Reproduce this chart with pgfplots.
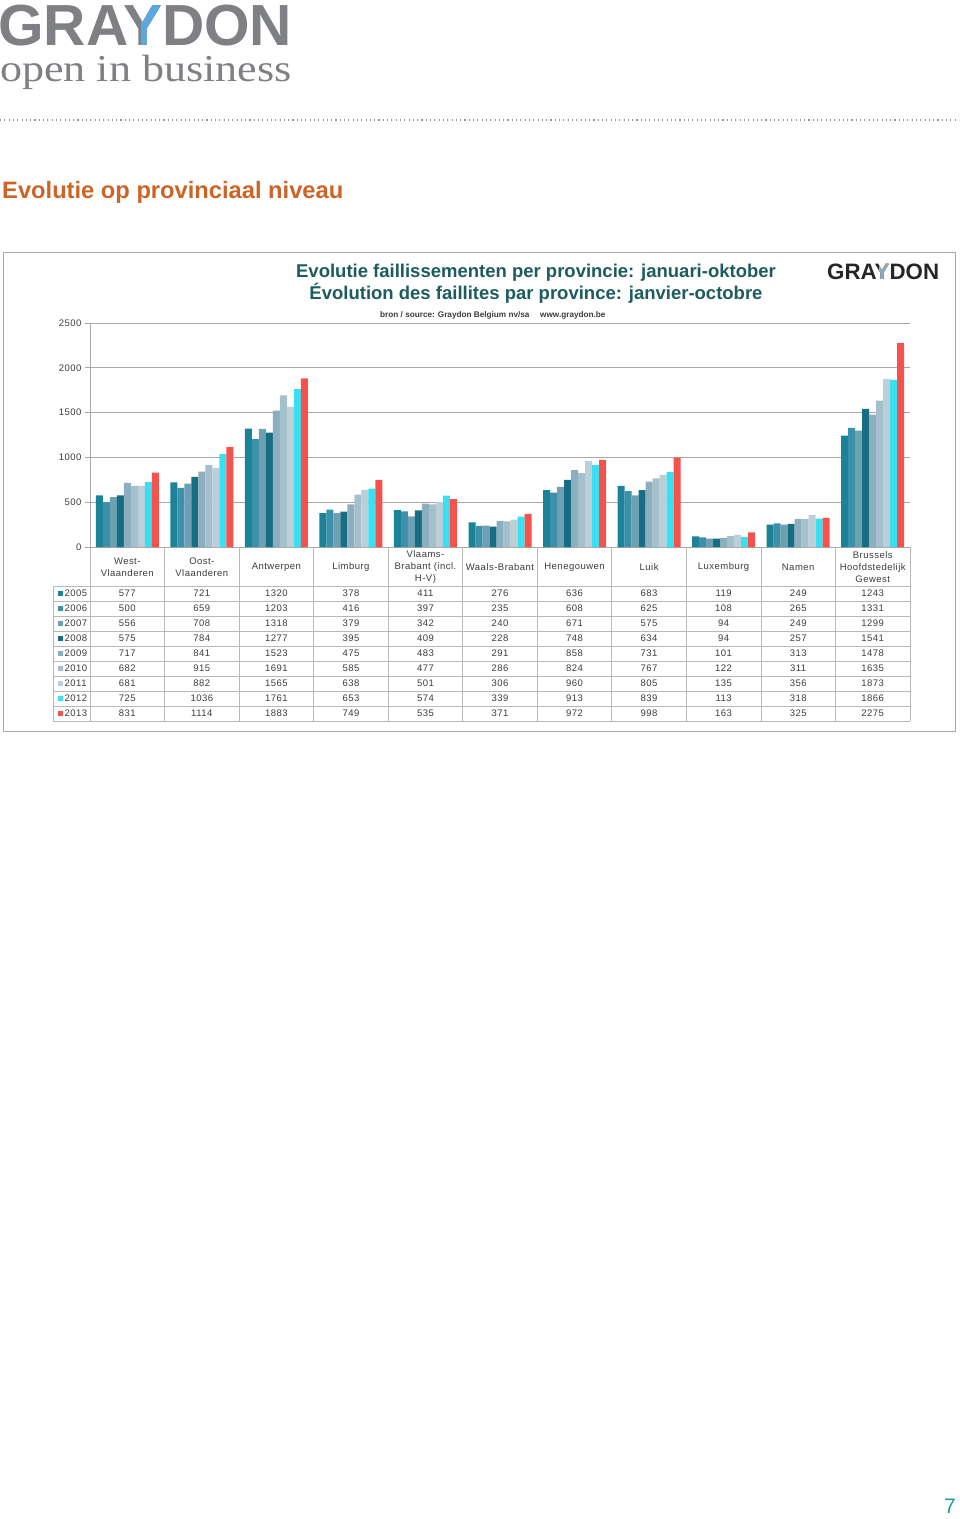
\documentclass[border=0pt]{standalone}
\usepackage{fontspec}
\setmainfont{Liberation Sans}
\newfontfamily\seriffont{Liberation Serif}
\newfontfamily\tablefont[LetterSpace=5]{Liberation Sans}
\usepackage{graphicx}
\usepackage{pgfplots}
\usepackage{pgfplotstable}
\pgfplotsset{compat=1.18}

\definecolor{c2005}{HTML}{1C8298}
\definecolor{c2006}{HTML}{3C91AA}
\definecolor{c2007}{HTML}{6EA0B4}
\definecolor{c2008}{HTML}{176E84}
\definecolor{c2009}{HTML}{8CAFC0}
\definecolor{c2010}{HTML}{A5C0CD}
\definecolor{c2011}{HTML}{BCCED8}
\definecolor{c2012}{HTML}{38E0F2}
\definecolor{c2013}{HTML}{F5514D}
\definecolor{logogray}{HTML}{7E8083}
\definecolor{logoblue}{HTML}{5AA8E0}
\definecolor{headorange}{HTML}{CC6428}
\definecolor{titleteal}{HTML}{1D5C5E}
\definecolor{gridgray}{HTML}{A8A8A8}
\definecolor{tablegray}{HTML}{B8B8B8}
\definecolor{textgray}{HTML}{3C3C3C}
\definecolor{pageteal}{HTML}{1E9C9C}

\pgfplotstableread{
idx y2005 y2006 y2007 y2008 y2009 y2010 y2011 y2012 y2013
0 577 500 556 575 717 682 681 725 831
1 721 659 708 784 841 915 882 1036 1114
2 1320 1203 1318 1277 1523 1691 1565 1761 1883
3 378 416 379 395 475 585 638 653 749
4 411 397 342 409 483 477 501 574 535
5 276 235 240 228 291 286 306 339 371
6 636 608 671 748 858 824 960 913 972
7 683 625 575 634 731 767 805 839 998
8 119 108 94 94 101 122 135 113 163
9 249 265 249 257 313 311 356 318 325
10 1243 1331 1299 1541 1478 1635 1873 1866 2275
}\datatable

\begin{document}
\begin{tikzpicture}[x=1pt,y=1pt]
\fill[white] (0,0) rectangle (960,-1519);

% top-left logo
\node[anchor=base west, inner sep=0, text=logogray, font=\fontsize{58}{58}\selectfont\bfseries] at (-2,-45) {\scalebox{1.01}[1]{GRAYDON}};
\begin{scope}
\clip (141,0) rectangle (158,-50);
\node[anchor=base west, inner sep=0, text=logoblue, font=\fontsize{58}{58}\selectfont\bfseries] at (-2,-45) {\scalebox{1.01}[1]{GRAYDON}};
\end{scope}
\node[anchor=base west, inner sep=0, text=logogray, font=\seriffont\fontsize{38}{38}\selectfont] at (0,-81) {\scalebox{1.16}[1]{open in business}};

% dotted rule
\draw[gridgray!90!black, line width=1.1pt, dash pattern=on 1.1pt off 3.2pt] (0,-120) -- (955,-120);

% heading
\node[anchor=base west, inner sep=0, text=headorange, font=\fontsize{23.7}{23.7}\selectfont\bfseries] at (2,-198) {Evolutie op provinciaal niveau};

% chart box
\draw[gridgray, line width=1pt] (3,-252) rectangle (955,-731);

% chart titles
\node[anchor=base, inner sep=0, text=titleteal, font=\fontsize{18.5}{18.5}\selectfont\bfseries] at (536,-277) {Evolutie faillissementen per provincie: januari-oktober};
\node[anchor=base, inner sep=0, text=titleteal, font=\fontsize{18.5}{18.5}\selectfont\bfseries] at (536,-299) {Évolution des faillites par province: janvier-octobre};
\node[anchor=base west, inner sep=0, text=textgray, font=\fontsize{8.2}{8.2}\selectfont\bfseries] at (380,-317) {bron / source: Graydon Belgium nv/sa};
\node[anchor=base west, inner sep=0, text=textgray, font=\fontsize{8.2}{8.2}\selectfont\bfseries] at (540,-317) {www.graydon.be};

% right logo
\node[anchor=base west, inner sep=0, text=black!85, font=\fontsize{22.3}{22.3}\selectfont\bfseries] at (827,-279) {GRAYDON};
\begin{scope}
\clip (879,-255) rectangle (887,-285);
\node[anchor=base west, inner sep=0, text=c2009, font=\fontsize{22.3}{22.3}\selectfont\bfseries] at (827,-279) {GRAYDON};
\end{scope}

\begin{axis}[
  at={(90pt,-547pt)}, anchor=south west,
  scale only axis, width=820pt, height=224pt,
  xmin=-0.5, xmax=10.5, ymin=0, ymax=2500,
  ybar=0pt, bar width=7pt,
  xtick=\empty,
  ytick={0,500,1000,1500,2000,2500},
  ymajorgrids, grid style={draw=gridgray, line width=0.8pt},
  axis x line*=bottom, axis y line*=left,
  axis line style={draw=gridgray, line width=0.8pt, -},
  tick align=outside, major tick length=5pt,
  tick style={draw=gridgray, line width=0.8pt},
  yticklabel style={font=\tablefont\fontsize{9.5}{10}\selectfont, text=textgray},
  /pgf/number format/assume math mode=true,
  /pgf/number format/set thousands separator={},
]
\pgfplotsinvokeforeach{2005,2006,2007,2008,2009,2010,2011,2012,2013}{
  \addplot[fill=c#1, draw=none] table[x=idx, y=y#1] {\datatable};
}
\end{axis}

% data table grid
\foreach \i in {0,...,11} {
  \draw[tablegray, line width=0.8pt] ({90+74.545*\i},-547) -- ({90+74.545*\i},-721);
}
\foreach \k in {0,...,9} {
  \draw[tablegray, line width=0.8pt] (53,{-586-15*\k}) -- (910,{-586-15*\k});
}
\draw[tablegray, line width=0.8pt] (53,-586) -- (53,-721);

% category names
\foreach \nm [count=\c from 0] in {{West-\\Vlaanderen},{Oost-\\Vlaanderen},{Antwerpen},{Limburg},{Vlaams-\\Brabant (incl.\\H-V)},{Waals-Brabant},{Henegouwen},{Luik},{Luxemburg},{Namen},{Brussels\\Hoofdstedelijk\\Gewest}} {
  \node[align=center, inner sep=0, text=textgray, font=\tablefont\fontsize{9.5}{12}\selectfont] at ({127.27+74.545*\c},-567) {\nm};
}

% year labels with keys and values
\foreach \yr [count=\k from 0] in {2005,2006,2007,2008,2009,2010,2011,2012,2013} {
  \fill[c\yr] (58,{-591-15*\k}) rectangle (63,{-596-15*\k});
  \node[anchor=west, inner sep=0, text=textgray, font=\tablefont\fontsize{9.5}{10}\selectfont] at (64.5,{-593.5-15*\k}) {\yr};
  \foreach \r in {0,...,10} {
    \pgfplotstablegetelem{\r}{y\yr}\of\datatable
    \node[inner sep=0, text=textgray, font=\tablefont\fontsize{9.5}{10}\selectfont] at ({127.27+74.545*\r},{-593.5-15*\k}) {\pgfplotsretval};
  }
}

% page number
\node[anchor=base east, inner sep=0, text=pageteal, font=\fontsize{21}{21}\selectfont] at (956,-1513) {7};

\pgfresetboundingbox
\path (0,0) rectangle (960,-1519);
\end{tikzpicture}
\end{document}
